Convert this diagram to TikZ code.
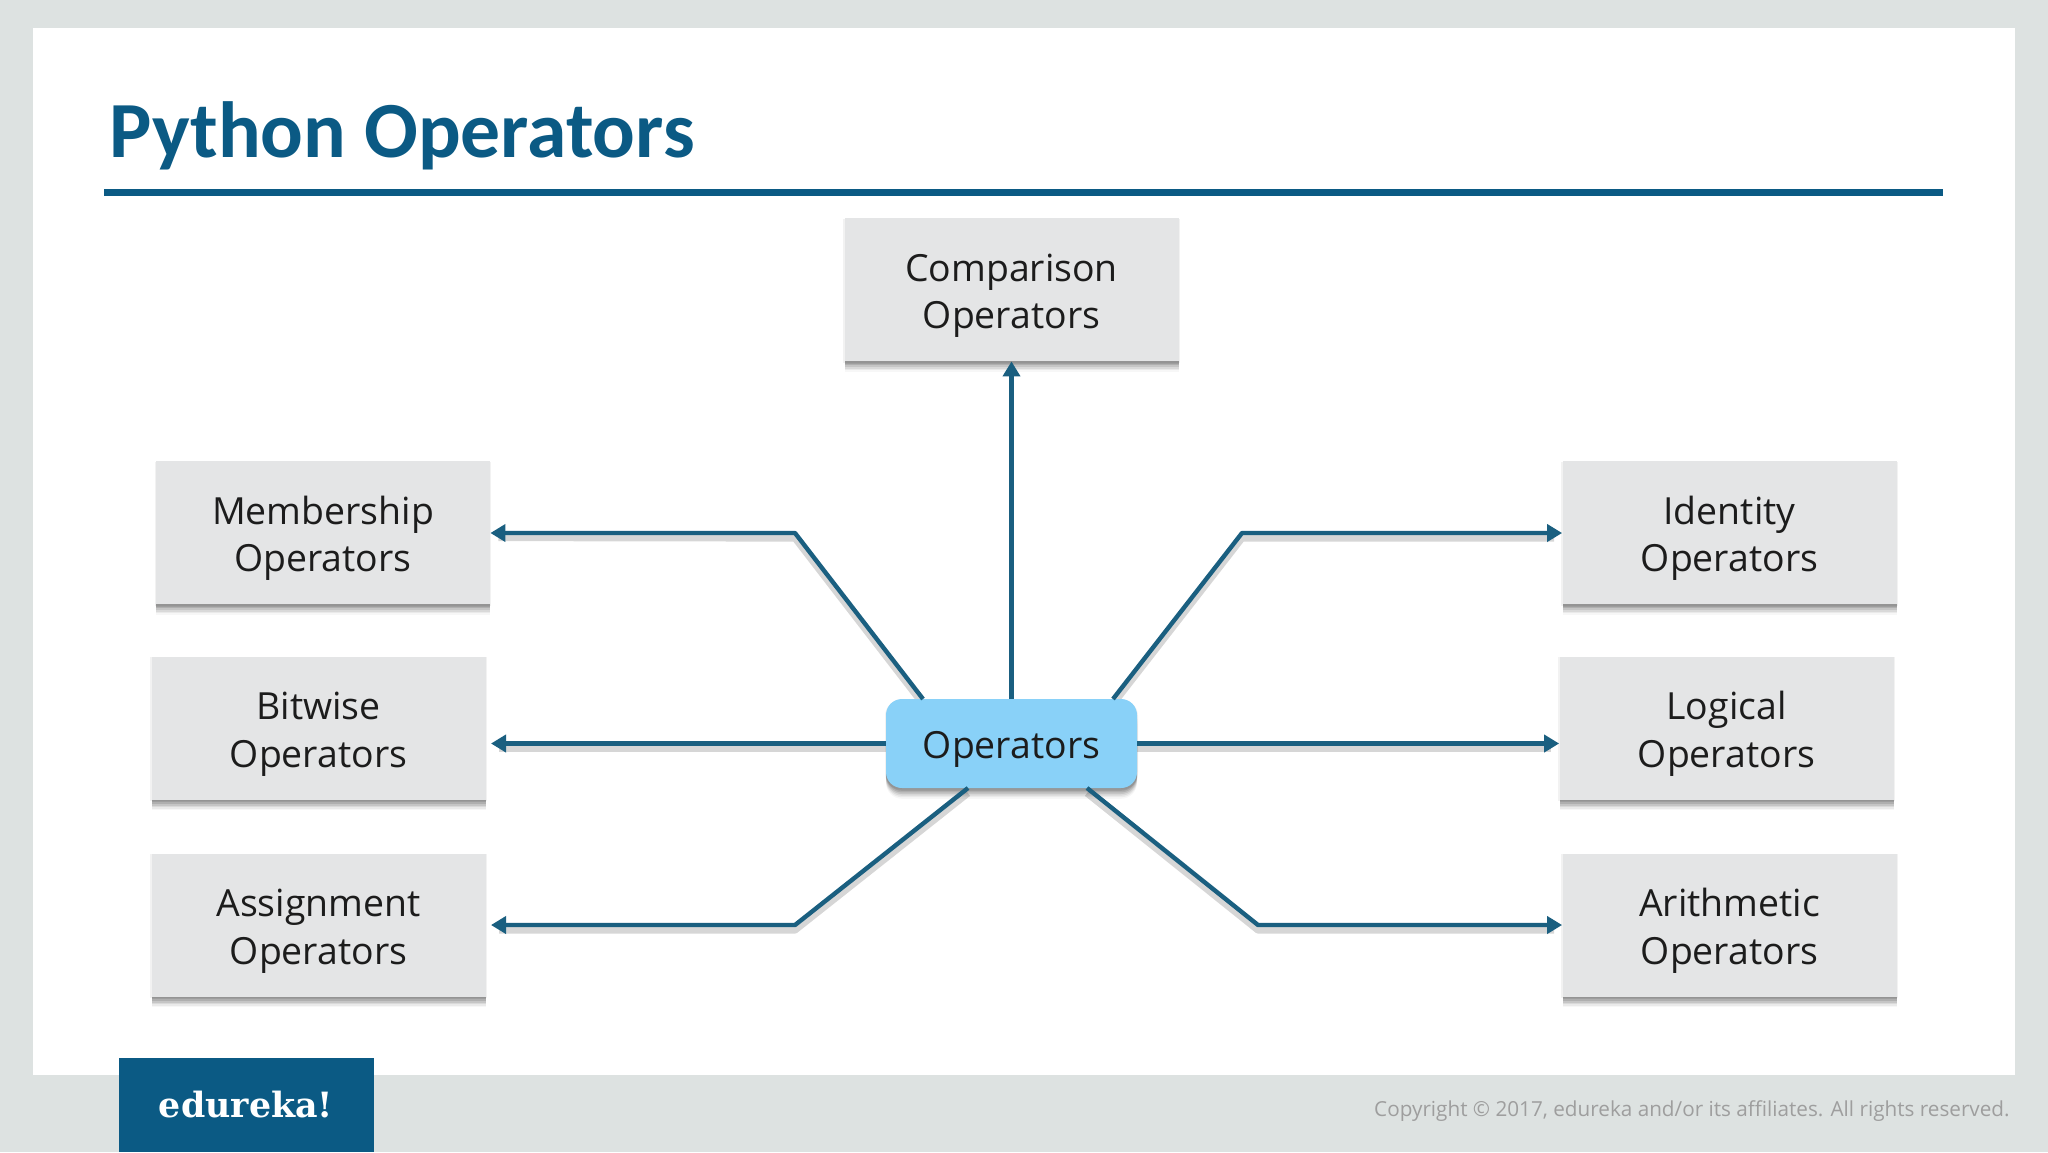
\documentclass[tikz,border=0pt]{standalone}
\usepackage{fontspec}
\setmainfont{Open Sans}
\newfontfamily\titlefont{Carlito}[BoldFont={Carlito Bold}]
\newfontfamily\logofont{DejaVu Serif}
\newfontfamily\notefont{Open Sans}
\usetikzlibrary{shadows,arrows.meta,calc}
\definecolor{framecol}{HTML}{DDE2E1}
\definecolor{bluecol}{HTML}{0B5A84}
\definecolor{linecol}{HTML}{1A5F80}
\definecolor{boxcol}{HTML}{E4E5E6}
\definecolor{opcol}{HTML}{89D1F8}
\definecolor{txtcol}{HTML}{1C1C1C}
\newcommand\liftbox{\rule{0pt}{19.8pt}}
\newcommand\lifthub{\rule{0pt}{19.6pt}}
\tikzset{
  x=0.5pt,y=-0.5pt,
  softshadow/.style={
    general shadow={shadow xshift=0pt,shadow yshift=-5.4pt,fill=black,opacity=.03},
    general shadow={shadow xshift=0pt,shadow yshift=-4.6pt,fill=black,opacity=.05},
    general shadow={shadow xshift=0pt,shadow yshift=-3.8pt,fill=black,opacity=.07},
    general shadow={shadow xshift=0pt,shadow yshift=-3.0pt,fill=black,opacity=.09},
    general shadow={shadow xshift=0pt,shadow yshift=-2.2pt,fill=black,opacity=.11},
    general shadow={shadow xshift=0pt,shadow yshift=-1.4pt,fill=black,opacity=.10},
    general shadow={shadow xshift=0pt,shadow yshift=-0.6pt,fill=black,opacity=.05,shadow scale=1.008}},
  opbox/.style={rectangle,fill=boxcol,minimum width=167pt,minimum height=71.5pt,inner sep=0pt,
    align=center,text=txtcol,font=\fontsize{18.7}{23.8}\selectfont,softshadow},
  hub/.style={rectangle,rounded corners=8pt,fill=opcol,minimum width=125.5pt,minimum height=44.5pt,inner sep=0pt,
    align=center,text=txtcol,font=\fontsize{18.7}{23.8}\selectfont,softshadow},
  link/.style={draw=linecol,line width=2.2pt,line join=round},
  arrowlink/.style={link,-{Triangle[length=7.5pt,width=8.5pt]}},
  linkshade/.style={draw=black,opacity=.16,line width=3.4pt,line join=round,shorten >=4pt,transform canvas={yshift=-2.6pt}},
}
\begin{document}
\begin{tikzpicture}
\useasboundingbox (0,0) rectangle (2048,1152);
\fill[framecol] (0,0) rectangle (2048,1152);
\fill[white] (33,28) rectangle (2015,1075);
\node[anchor=base west,inner sep=0pt,text=bluecol,font=\titlefont\bfseries\fontsize{39.8}{42}\selectfont] (title) at (109,157) {Python Operators};
\fill[bluecol] (104,189) rectangle (1943,196);
\fill[bluecol] (119,1058) rectangle (374,1152);
\node[inner sep=0pt,text=white,font=\logofont\bfseries\fontsize{17.4}{20}\selectfont] (logo) at (246,1105) {edureka!};
\node[anchor=base east,inner sep=0pt,text=black!38,font=\notefont\fontsize{10.35}{12}\selectfont] (copy) at (2010,1116) {Copyright © 2017, edureka and/or its affiliates. All rights reserved.};

\coordinate (bmem) at (795,533);
\coordinate (bide) at (1242,533);
\coordinate (basg) at (795,925);
\coordinate (bari) at (1258,925);

\node[opbox] (cmp) at (1011.5,289.5) {\liftbox Comparison\\Operators};
\node[opbox] (mem) at (323,532.5) {\liftbox Membership\\Operators};
\node[opbox] (bit) at (318.5,728) {\liftbox Bitwise\\Operators};
\node[opbox] (asg) at (318.5,925) {\liftbox Assignment\\Operators};
\node[opbox] (ide) at (1729.5,532.5) {\liftbox Identity\\Operators};
\node[opbox] (log) at (1726.5,728) {\liftbox Logical\\Operators};
\node[opbox] (ari) at (1729.5,925) {\liftbox Arithmetic\\Operators};

\coordinate (smem) at (923,699);
\coordinate (side) at (1113,699);
\coordinate (sasg) at (968,788);
\coordinate (sari) at (1087,788);
\coordinate (hl) at (886,743.5);
\coordinate (hr) at (1137,743.5);
\coordinate (tipbit) at (491,743.5);
\coordinate (tipasg) at (491,925);

% connector shadows
\draw[linkshade] (smem) -- (bmem) -- (mem.east);
\draw[linkshade] (side) -- (bide) -- (ide.west |- bide);
\draw[linkshade] (sasg) -- (basg) -- (tipasg);
\draw[linkshade] (sari) -- (bari) -- (ari.west |- bari);
\draw[linkshade] (hl) -- (tipbit);
\draw[linkshade] (hr) -- (log.west |- hr);

\node[hub] (ops) at (1011.5,743.5) {\lifthub Operators};

% connectors
\draw[arrowlink] (ops.north) -- (cmp.south);
\draw[arrowlink] (smem) -- (bmem) -- (mem.east |- bmem);
\draw[arrowlink] (side) -- (bide) -- (ide.west |- bide);
\draw[arrowlink] (ops.west) -- (tipbit);
\draw[arrowlink] (ops.east) -- (log.west |- ops.east);
\draw[arrowlink] (sasg) -- (basg) -- (tipasg);
\draw[arrowlink] (sari) -- (bari) -- (ari.west |- bari);
\end{tikzpicture}
\end{document}
